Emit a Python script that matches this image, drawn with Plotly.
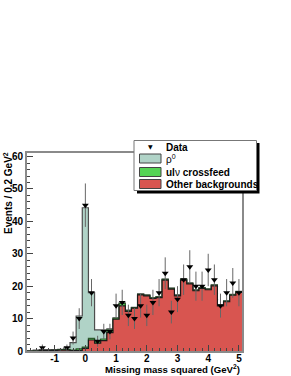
import numpy as np
import plotly.graph_objects as go

# ---- data ----
bin_centers = [-1.8, -1.6, -1.4, -1.2, -1.0, -0.8, -0.6, -0.4, -0.2, 0.0,
               0.2, 0.4, 0.6, 0.8, 1.0, 1.2, 1.4, 1.6, 1.8, 2.0,
               2.2, 2.4, 2.6, 2.8, 3.0, 3.2, 3.4, 3.6, 3.8, 4.0,
               4.2, 4.4, 4.6, 4.8, 5.0]
bin_width = 0.2

data_counts = [0, 0, 1, 0, 0, 0, 1, 4, 10, 45,
               18, 3, 6, 6, 14, 15, 11, 10, 14, 11,
               15, 18, 24, 12, 16, 22, 26, 20, 20, 25,
               22, 14, 18, 21, 18]
data_errors = [0, 0, 1.0, 0, 0, 0, 1.0, 2.0, 3.2, 6.7,
               4.2, 1.7, 2.4, 2.4, 3.7, 3.9, 3.3, 3.2, 3.7, 3.3,
               3.9, 4.2, 4.9, 3.5, 4.0, 4.7, 5.1, 4.5, 4.5, 5.0,
               4.7, 3.7, 4.2, 4.6, 4.2]

other_bkg = [0, 0, 0.1, 0.1, 0.2, 0.3, 0.3, 0.1, 0.2, 0.8,
             3.4, 2.4, 3.2, 5.7, 9.8, 13.9, 12.2, 13.2, 17.3, 17.0,
             16.2, 16.5, 21.9, 19.1, 17.0, 21.9, 20.7, 18.6, 19.3, 18.9,
             20.1, 13.9, 15.2, 17.2, 18.1]
crossfeed = [0, 0, 0, 0, 0, 0.1, 0.1, 0.2, 0.5, 0.4,
             0.5, 0.7, 0.5, 0.8, 0.3, 0.8, 0.3, 0.2, 0.2, 0.2,
             0.2, 0.2, 0.2, 0.2, 0.2, 0.2, 0.2, 0.2, 0.2, 0.2,
             0.2, 0.2, 0.2, 0.2, 0.2]
rho0 = [0, 0.3, 0.3, 0.3, 0.2, 0.1, 0.6, 2.3, 10.1, 43.0,
        14.1, 3.4, 2.8, 0.3, 0.1, 0.1, 0.1, 0.1, 0.1, 0.1,
        0.1, 0.1, 0.1, 0.1, 0.1, 0.1, 0.1, 0.1, 0.1, 0.1,
        0.1, 0.1, 0.1, 0.1, 0.1]

legend_labels = ["Data", "ρ<sup>0</sup>", "<b>ul</b>ν <b>crossfeed</b>", "<b>Other backgrounds</b>"]
x_title = "Missing mass squared (GeV<sup>2</sup>)"
y_title = "Events / 0.2 GeV<sup>2</sup>"

# ---- styles ----
RHO_FILL, RHO_LINE = "#b0d3c7", "#4d4d4d"
GRN_FILL, GRN_LINE = "#55d455", "#2d5a2d"
RED_FILL, RED_LINE = "#d85550", "#1a1a1a"
FONT = "Liberation Sans, Arial, Helvetica, sans-serif"

W, H = 291, 376
L, R, T, B = 27, 242, 153, 351  # plot frame in pixels

c = np.array(bin_centers)
edges = np.append(c - bin_width / 2, c[-1] + bin_width / 2)
red = np.array(other_bkg)
grn = red + np.array(crossfeed)
tot = grn + np.array(rho0)


def step_trace(vals, fill, line):
    y = np.append(vals, vals[-1])
    return go.Scatter(x=edges, y=y, mode="lines", line=dict(shape="hv", color=line, width=1.2),
                      fill="tozeroy", fillcolor=fill, showlegend=False, hoverinfo="skip")


fig = go.Figure()
fig.add_trace(step_trace(tot, RHO_FILL, RHO_LINE))
fig.add_trace(step_trace(grn, GRN_FILL, GRN_LINE))
fig.add_trace(step_trace(red, RED_FILL, RED_LINE))

dc = np.array(data_counts, dtype=float)
mask = dc > 0
fig.add_trace(go.Scatter(
    x=c[mask], y=dc[mask], mode="markers",
    marker=dict(symbol="triangle-down", size=6, color="black"),
    error_y=dict(type="data", array=np.array(data_errors)[mask], color="#666666", thickness=1, width=0),
    showlegend=False, hoverinfo="skip"))

tickfont = dict(family=FONT, size=10, color="black")
fig.update_xaxes(range=[-1.9, 5.1], tickmode="array", tickvals=[-1, 0, 1, 2, 3, 4, 5],
                 ticktext=["<b>-1</b>", "<b>0</b>", "<b>1</b>", "<b>2</b>", "<b>3</b>", "<b>4</b>", "<b>5</b>"],
                 ticks="inside", ticklen=6, tickcolor="#444", tickwidth=1, ticklabelstandoff=-3,
                 minor=dict(dtick=0.2, tick0=0, ticks="inside", ticklen=3, tickcolor="#444"),
                 showline=True, linecolor="#8a8a8a", linewidth=2, mirror=True, automargin=False,
                 showgrid=False, zeroline=False, tickfont=tickfont)
fig.update_yaxes(range=[0, 61.1], tickmode="array", tickvals=[0, 10, 20, 30, 40, 50, 60],
                 ticktext=["<b>0</b>", "<b>10</b>", "<b>20</b>", "<b>30</b>", "<b>40</b>", "<b>50</b>", "<b>60</b>"],
                 ticks="inside", ticklen=6, tickcolor="#444", tickwidth=1,
                 minor=dict(dtick=2, tick0=0, ticks="inside", ticklen=3, tickcolor="#444"),
                 showline=True, linecolor="#8a8a8a", linewidth=2, mirror=True, automargin=False,
                 showgrid=False, zeroline=False, tickfont=tickfont)


def px(x):
    return (x - L) / (R - L)


def py(y):
    return (B - y) / (B - T)


shapes = []
anns = []
# legend shadow + box
shapes.append(dict(type="rect", xref="paper", yref="paper", x0=px(137), x1=px(259.5), y0=py(193.5), y1=py(143),
                   fillcolor="black", line=dict(width=0), layer="above"))
shapes.append(dict(type="rect", xref="paper", yref="paper", x0=px(134), x1=px(256.5), y0=py(190.5), y1=py(140.5),
                   fillcolor="white", line=dict(color="#777", width=1), layer="above"))
# legend colour boxes
for (yt, yb), fc in zip([(154, 163), (167.5, 176.5), (179.5, 188.5)], [RHO_FILL, GRN_FILL, RED_FILL]):
    shapes.append(dict(type="rect", xref="paper", yref="paper", x0=px(139.5), x1=px(161), y0=py(yb), y1=py(yt),
                       fillcolor=fc, line=dict(color="#444", width=1), layer="above"))
# legend data marker
anns.append(dict(xref="paper", yref="paper", x=px(150), y=py(146.5), text="▼", showarrow=False,
                 font=dict(family="DejaVu Sans", size=6, color="black"), xanchor="center", yanchor="middle"))
for lab, yc in zip(legend_labels, [147, 159, 172, 184]):
    txt = "<b>" + lab + "</b>" if lab == "Data" else lab
    anns.append(dict(xref="paper", yref="paper", x=px(164), y=py(yc), text=txt, showarrow=False,
                     font=dict(family=FONT, size=10, color="black"), xanchor="left", yanchor="middle"))

# axis titles
anns.append(dict(xref="paper", yref="paper", x=1.0, y=py(368.5), text="<b>" + x_title + "</b>", showarrow=False,
                 font=dict(family=FONT, size=9.6, color="black"), xanchor="right", yanchor="middle"))
anns.append(dict(xref="paper", yref="paper", x=px(8), y=py(150), text="<b>" + y_title + "</b>", showarrow=False,
                 textangle=-90, font=dict(family=FONT, size=10, color="black"), xanchor="center", yanchor="top"))

fig.update_layout(width=W, height=H, margin=dict(l=L, r=W - R, t=T, b=H - B, autoexpand=False),
                  paper_bgcolor="white", plot_bgcolor="white", showlegend=False,
                  shapes=shapes, annotations=anns)

fig.write_html("out.html", config={"displayModeBar": False},
               post_script="document.body.style.margin='0';document.body.style.overflow='hidden';")
